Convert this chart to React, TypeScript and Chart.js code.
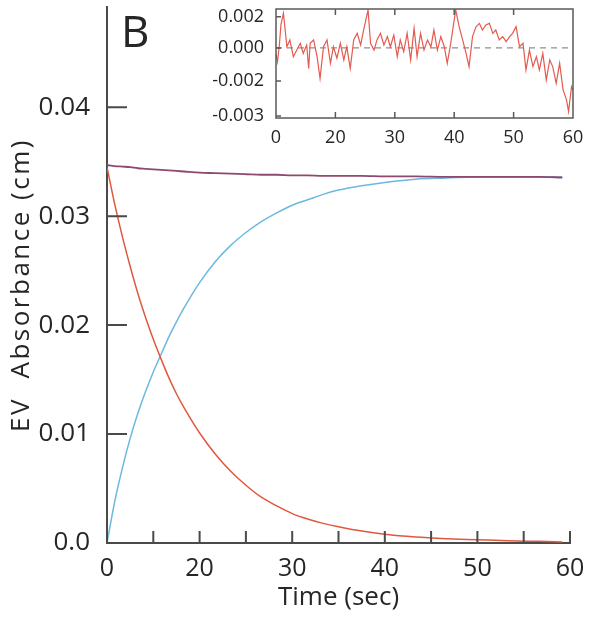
import React, { useEffect, useRef } from 'react';
import { Chart, registerables } from 'chart.js';

Chart.register(...registerables);

// ---------- Main panel data ----------
const timeMain = [0, 1, 2, 3, 4, 5, 6, 7, 8, 9, 10, 12, 14, 16, 18, 20, 22, 24, 26, 28, 30, 33, 36, 40, 44, 48, 52, 56, 59];
const decayRed = [0.0345, 0.0311, 0.0281, 0.0254, 0.0229, 0.0207, 0.0187, 0.0169, 0.0152, 0.0137, 0.0124, 0.0101, 0.0082, 0.0066, 0.0053, 0.0042, 0.0034, 0.0027, 0.0022, 0.0018, 0.0015, 0.0011, 0.0008, 0.00055, 0.0004, 0.0003, 0.0002, 0.00015, 0.0001];
const riseBlue = [0, 0.0038, 0.0069, 0.0096, 0.0119, 0.0139, 0.0157, 0.0173, 0.0189, 0.0203, 0.0216, 0.0239, 0.0258, 0.0273, 0.0285, 0.0295, 0.0303, 0.0310, 0.0315, 0.0320, 0.0324, 0.0328, 0.0331, 0.0334, 0.0335, 0.0336, 0.0336, 0.0336, 0.0336];
const totalSum = [0.0347, 0.0346, 0.03455, 0.0345, 0.0344, 0.03435, 0.0343, 0.03425, 0.0342, 0.03415, 0.0341, 0.0340, 0.03395, 0.0339, 0.03385, 0.0338, 0.0338, 0.03375, 0.03375, 0.0337, 0.0337, 0.0337, 0.03365, 0.03365, 0.0336, 0.0336, 0.0336, 0.0336, 0.03355];

const mainXTickPositions = [0, 6, 12, 18, 24, 30, 36, 42, 48, 54, 60];
const mainXTickLabels = ['0', '', '20', '', '30', '', '40', '', '50', '', '60'];
const mainYTickValues = [0, 0.01, 0.02, 0.03, 0.04];
const mainYTickLabels = ['0.0', '0.01', '0.02', '0.03', '0.04'];
const mainXTitle = 'Time (sec)';
const mainYTitle = 'EV  Absorbance (cm)';
const panelLetter = 'B';

// ---------- Inset (residual) data ----------
const residTime = [0.0, 0.3, 0.7, 1.0, 1.5, 2.2, 2.8, 3.5, 4.2, 4.9, 5.5, 6.2, 6.6, 6.9, 7.6, 8.3, 8.9, 9.6, 10.3, 11.0, 11.6, 12.3, 13.0, 13.7, 14.3, 15.0, 15.7, 16.4, 17.1, 17.7, 18.6, 19.1, 19.8, 20.4, 21.1, 21.8, 22.5, 23.1, 23.8, 24.5, 25.1, 25.8, 26.5, 27.2, 27.9, 28.5, 29.2, 29.9, 30.6, 31.3, 31.9, 32.6, 33.3, 34.0, 34.6, 35.3, 36.3, 37.0, 37.7, 38.4, 39.0, 39.7, 40.4, 41.1, 41.7, 42.4, 43.1, 43.8, 44.4, 45.1, 45.8, 46.5, 47.2, 47.8, 48.5, 49.2, 49.9, 50.5, 51.2, 51.9, 52.6, 53.2, 53.9, 54.6, 55.3, 55.9, 56.6, 57.3, 58.0, 58.7, 59.1, 59.7, 60.0];
const residValue = [-0.00030, -0.00071, 0.00020, 0.00120, 0.00178, 0.00006, 0.00041, -0.00045, -0.00011, 0.00024, -0.00028, 0.00015, -0.00105, 0.00024, 0.00041, -0.00045, -0.00156, 0.00006, 0.00041, -0.00079, 0.00006, -0.00053, 0.00024, -0.00062, 0.00006, -0.00105, 0.00041, 0.00075, 0.00015, 0.00092, 0.00195, 0.00024, -0.00011, 0.00041, 0.00075, 0.00015, 0.00058, 0.00006, 0.00066, -0.00045, 0.00041, -0.00019, 0.00075, -0.00062, 0.00101, -0.00045, 0.00075, -0.00011, 0.00041, 0.00006, 0.00092, -0.00011, 0.00058, 0.00006, -0.00079, 0.00024, 0.00195, 0.00109, 0.00041, -0.00028, -0.00096, 0.00058, 0.00109, 0.00126, 0.00092, 0.00118, 0.00126, 0.00075, 0.00092, 0.00041, 0.00058, 0.00032, 0.00058, 0.00075, 0.00109, 0.00006, 0.00024, -0.00113, -0.00011, -0.00096, -0.00045, -0.00113, -0.00028, -0.00165, -0.00062, -0.00096, -0.00182, -0.00079, -0.00216, -0.00268, -0.00327, -0.00199, -0.00216];
const zeroLineTime = [0, 60];
const zeroLineValue = [0, 0];

const insetXTickPositions = [0, 12, 24, 36, 48, 60];
const insetXTickLabels = ['0', '20', '30', '40', '50', '60'];
const insetYTickValues = [0.0016, 0, -0.0017, -0.0035];
const insetYTickLabels = ['0.002', '0.000', '-0.002', '-0.003'];

const FONT = "'Open Sans', 'DejaVu Sans', sans-serif";
const TEXT = '#262626';
const AXIS = '#4a4a4a';

const pts = (xs: number[], ys: number[]) => xs.map((x, i) => ({ x, y: ys[i] }));

const tickPlugin = {
  id: 'customTicks',
  afterDraw(chart: any, _args: any, opts: any) {
    const { ctx, chartArea, scales } = chart;
    const { left, right, top, bottom } = chartArea;
    ctx.save();
    ctx.strokeStyle = opts.color;
    ctx.lineWidth = opts.width;
    ctx.beginPath();
    if (opts.box) {
      ctx.rect(left, top, right - left, bottom - top);
    }
    scales.x.ticks.forEach((t: any) => {
      const px = scales.x.getPixelForValue(t.value);
      ctx.moveTo(px, bottom);
      ctx.lineTo(px, bottom - opts.xLen);
      if (opts.mirror) {
        ctx.moveTo(px, top);
        ctx.lineTo(px, top + opts.xLen);
      }
    });
    scales.y.ticks.forEach((t: any) => {
      if (opts.skipZeroY && t.value === 0) return;
      const py = scales.y.getPixelForValue(t.value);
      ctx.moveTo(left, py);
      ctx.lineTo(left + opts.yLen, py);
    });
    ctx.stroke();
    if (opts.letter) {
      ctx.fillStyle = TEXT;
      ctx.font = `44px ${FONT}`;
      ctx.textBaseline = 'alphabetic';
      ctx.textAlign = 'left';
      ctx.fillText(opts.letter, left + 14, top + 40);
    }
    if (opts.yTitle) {
      ctx.save();
      ctx.translate(22, 285);
      ctx.rotate(-Math.PI / 2);
      ctx.fillStyle = TEXT;
      ctx.font = `26px ${FONT}`;
      try { (ctx as any).letterSpacing = '2.5px'; } catch (e) { /* ignore */ }
      ctx.textAlign = 'center';
      ctx.textBaseline = 'middle';
      ctx.fillText(opts.yTitle, 0, 0);
      ctx.restore();
    }
    ctx.restore();
  },
};

export default function App() {
  const mainRef = useRef<HTMLCanvasElement>(null);
  const insetRef = useRef<HTMLCanvasElement>(null);

  useEffect(() => {
    const main = new Chart(mainRef.current as HTMLCanvasElement, {
      type: 'line',
      data: {
        datasets: [
          { label: 'sum', data: pts(timeMain, totalSum), borderColor: '#8e4a6e', borderWidth: 1.8, pointRadius: 0, cubicInterpolationMode: 'monotone' },
          { label: 'decay', data: pts(timeMain, decayRed), borderColor: '#e0583e', borderWidth: 1.5, pointRadius: 0, cubicInterpolationMode: 'monotone' },
          { label: 'rise', data: pts(timeMain, riseBlue), borderColor: '#6cb9df', borderWidth: 1.5, pointRadius: 0, cubicInterpolationMode: 'monotone' },
        ],
      },
      options: {
        animation: false,
        responsive: false,
        devicePixelRatio: 1,
        layout: { padding: { left: 0, top: 7, right: 26, bottom: 0 } },
        plugins: {
          legend: { display: false },
          tooltip: { enabled: false },
          customTicks: { color: AXIS, width: 2, xLen: 12, yLen: 20, skipZeroY: true, mirror: false, box: false, letter: panelLetter, yTitle: mainYTitle },
        } as any,
        scales: {
          x: {
            type: 'linear',
            min: 0,
            max: 60,
            afterBuildTicks: (s: any) => { s.ticks = mainXTickPositions.map((v) => ({ value: v })); },
            afterFit: (s: any) => { s.height = 77; s.paddingLeft = 0; s.paddingRight = 0; },
            ticks: {
              autoSkip: false,
              maxRotation: 0,
              padding: 3,
              color: TEXT,
              font: { family: FONT, size: 25 },
              callback: (_v: any, i: number) => mainXTickLabels[i],
            },
            grid: { display: false },
            border: { display: true, color: AXIS, width: 2 },
            title: { display: true, text: mainXTitle, color: TEXT, font: { family: FONT, size: 26 }, padding: { top: 0, bottom: 7 } },
          },
          y: {
            type: 'linear',
            min: 0,
            max: 0.0492,
            afterBuildTicks: (s: any) => { s.ticks = mainYTickValues.map((v) => ({ value: v })); },
            afterFit: (s: any) => { s.width = 107; s.paddingTop = 0; s.paddingBottom = 0; },
            ticks: {
              padding: 9,
              color: TEXT,
              font: { family: FONT, size: 26 },
              callback: (_v: any, i: number) => mainYTickLabels[i],
            },
            grid: { display: false },
            border: { display: true, color: AXIS, width: 2 },
            title: { display: false },
          },
        },
      },
      plugins: [tickPlugin as any],
    } as any);

    const inset = new Chart(insetRef.current as HTMLCanvasElement, {
      type: 'line',
      data: {
        datasets: [
          { label: 'residual', data: pts(residTime, residValue), borderColor: '#e45a4e', borderWidth: 1.2, pointRadius: 0, tension: 0 },
          { label: 'zero', data: pts(zeroLineTime, zeroLineValue), borderColor: '#8f8f8f', borderWidth: 1.3, borderDash: [6, 5], pointRadius: 0 },
        ],
      },
      options: {
        animation: false,
        responsive: false,
        devicePixelRatio: 1,
        layout: { padding: { left: 0, top: 9, right: 23, bottom: 0 } },
        plugins: {
          legend: { display: false },
          tooltip: { enabled: false },
          customTicks: { color: '#5a5a5a', width: 1.5, xLen: 6, yLen: 5, skipZeroY: false, mirror: true, box: true },
        } as any,
        scales: {
          x: {
            type: 'linear',
            min: 0,
            max: 60,
            afterBuildTicks: (s: any) => { s.ticks = insetXTickPositions.map((v) => ({ value: v })); },
            afterFit: (s: any) => { s.height = 27; s.paddingLeft = 0; s.paddingRight = 0; },
            ticks: {
              autoSkip: false,
              maxRotation: 0,
              padding: 1,
              color: TEXT,
              font: { family: FONT, size: 18 },
              callback: (_v: any, i: number) => insetXTickLabels[i],
            },
            grid: { display: false },
            border: { display: false },
          },
          y: {
            type: 'linear',
            min: -0.0036,
            max: 0.002,
            afterBuildTicks: (s: any) => { s.ticks = insetYTickValues.map((v) => ({ value: v })); },
            afterFit: (s: any) => { s.width = 76; s.paddingTop = 0; s.paddingBottom = 0; },
            ticks: {
              padding: 4,
              color: TEXT,
              font: { family: FONT, size: 18 },
              callback: (_v: any, i: number) => insetYTickLabels[i],
            },
            grid: { display: false },
            border: { display: false },
          },
        },
      },
      plugins: [tickPlugin as any],
    } as any);

    return () => {
      main.destroy();
      inset.destroy();
    };
  }, []);

  return (
    <div style={{ position: 'absolute', left: 0, top: 0, width: 596, height: 620, background: '#ffffff' }}>
      <canvas ref={mainRef} width={596} height={620} style={{ position: 'absolute', left: 0, top: 0 }} />
      <canvas ref={insetRef} width={396} height={145} style={{ position: 'absolute', left: 200, top: 0 }} />
    </div>
  );
}
